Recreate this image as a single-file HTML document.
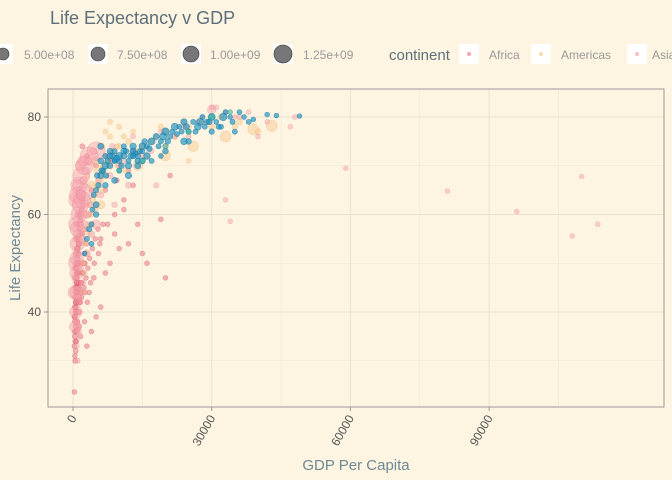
<!DOCTYPE html>
<html><head><meta charset="utf-8"><style>
body{margin:0;background:#fdf5e2;}
svg{display:block;font-family:"Liberation Sans",sans-serif;}
</style></head><body>
<svg id="chart" width="672" height="480">
<rect width="672" height="480" fill="#fdf5e2"/>
<text x="50" y="24" font-size="18" fill="#5d6f7a">Life Expectancy v GDP</text>
<g>
<rect x="-7" y="44" width="20" height="20" fill="#fff"/><circle cx="3" cy="54" r="6" fill="#777" stroke="#333" stroke-width="0.6"/>
<text x="24" y="59" font-size="12" fill="#999">5.00e+08</text>
<rect x="88" y="44" width="20" height="20" fill="#fff"/><circle cx="98" cy="54" r="7" fill="#777" stroke="#333" stroke-width="0.6"/>
<text x="117" y="59" font-size="12" fill="#999">7.50e+08</text>
<rect x="181" y="44" width="20" height="20" fill="#fff"/><circle cx="191" cy="54" r="8" fill="#777" stroke="#333" stroke-width="0.6"/>
<text x="210" y="59" font-size="12" fill="#999">1.00e+09</text>
<rect x="273" y="44" width="20" height="20" fill="#fff"/><circle cx="283" cy="54" r="9" fill="#777" stroke="#333" stroke-width="0.6"/>
<text x="303" y="59" font-size="12" fill="#999">1.25e+09</text>
</g>
<g>
<text x="389" y="60" font-size="15" fill="#5d6f7a">continent</text>
<rect x="459" y="44" width="20" height="20" fill="#fff"/><circle cx="469" cy="54" r="2" fill="#e8707f" fill-opacity="0.6"/>
<text x="489" y="59" font-size="12" fill="#999">Africa</text>
<rect x="531" y="44" width="20" height="20" fill="#fff"/><circle cx="541" cy="54" r="2" fill="#f7c98f" fill-opacity="0.7"/>
<text x="561" y="59" font-size="12" fill="#999">Americas</text>
<rect x="627" y="44" width="20" height="20" fill="#fff"/><circle cx="637" cy="54" r="2" fill="#f4a0ab" fill-opacity="0.7"/>
<text x="652" y="59" font-size="12" fill="#999">Asia</text>
</g>
<g id="grid"></g>
<g id="points"></g>
<rect x="48" y="89" width="616" height="318" fill="none" stroke="#999" stroke-width="1"/>
<g id="axes"></g>
<text x="356" y="470" font-size="15" fill="#6f8896" text-anchor="middle">GDP Per Capita</text>
<text transform="translate(20,248) rotate(-90)" font-size="15" fill="#6f8896" text-anchor="middle">Life Expectancy</text>
</svg>
<script>
const xTicks = [0, 30000, 60000, 90000];
const xTickLabels = ["0", "30000", "60000", "90000"];
const yTicks = [40, 60, 80];
const yTickLabels = ["40", "60", "80"];
const continents = ["Africa", "Americas", "Asia", "Europe", "Oceania"];
const africaGdp = [500,600,700,800,900,1000,1200,700,900,1100,1500,800,1300,2000,1000,1800,600,400,2500,1600,3000,300,4000,5000,6000,3500,4500,7000,2500,5500,8000,10000,12000,9000,6500,3500,2200,4000,1500,800,1200,2800,6000,15000,16000,19000,14000,11000,7000,9500,12000,5000,3000,2000,8000,13000,21000,20000,600,700,900,1100,1300,400,500,800,
 300,350,450,550,650,750,850,950,1050,1150,1250,1350,1450,1550,1700,1900,2100,2300,2600,2900,300,400,500,600,700,800,900,1000,1200,1400,1600,1800,2000,2400,2800,3200,3600,4200,4800,5400,400,500,600,700,800,900,1000,1100,1200,1300,1500,1700,1900,2200,2600,3100,3800,4600,5800,7500,9000,11000,13000];
const africaLife = [30,32,34,36,38,40,42,44,46,48,50,52,54,56,45,43,41,39,38,35,33,23.6,36,39,41,44,47,48,50,52,50,53,54,56,58,60,62,65,64,58,60,57,55,52,50,59,58,61,65,67,69,70,72,74,71,73,68,47,47,50,53,43,37,35,49,55,
 33,36,38,40,42,44,46,48,50,52,54,56,58,60,46,44,48,50,52,54,39,41,43,45,47,49,51,53,55,57,59,61,63,45,47,49,51,53,55,57,31,34,37,42,45,48,50,44,46,40,42,44,46,48,44,42,46,50,54,58,60,63,66];
const africaPop = [10,8,12,20,15,30,25,10,18,40,12,8,20,15,60,10,6,5,4,7,3,5,2,3,5,4,6,2,12,3,2,1.5,1,2,3,8,10,4,30,10,20,5,2,1,1,1,2,1,3,2,1,4,6,8,2,1,1,1,15,20,25,30,10,8,12,40,
 5,8,10,12,15,20,25,10,8,6,12,14,10,8,6,5,7,9,6,4,3,6,8,10,12,14,16,10,9,8,7,6,5,4,3,3,2,2,2,2,4,6,8,10,12,14,16,10,9,8,6,5,4,3,3,2,2,2,1,1,1,1,1];
const americasGdp = [1500,2000,2500,3000,3500,4000,5000,6000,7000,8000,9000,10000,12000,15000,18000,20000,25000,30000,35000,40000,10000,7000,8000,5000,4000,3000,6000,13000,16000,25000,3000,2000,14000,20000,26000,33000,39000,43000,8000,5500,
 2200,2700,3300,3800,4400,5200,6500,7500,8500,9500,11000,13000,14000,17000,19000,22000,24000,28000,32000,36000,4600,5800,6800,7800,9800,11500,3600,4800,2600,6200];
const americasLife = [40,44,48,52,56,58,62,65,68,70,72,74,75,74,76,77,78,78,78,77,78,77,79,71,66,60,62,72,72,71,68,55,70,72,74,76,77.5,78.2,76,69,
 50,54,58,60,63,66,69,71,73,74,76,77,73,75,78,76,79,79,80,79,64,67,70,72,70,69,62,61,57,74];
const americasPop = [5,8,10,15,20,30,40,60,50,40,30,20,25,10,20,30,15,30,20,30,10,8,5,80,100,60,120,10,20,8,15,10,200,230,260,280,300,300,10,150,
 8,10,12,15,20,25,30,20,15,10,8,6,20,25,15,20,10,30,30,25,40,60,80,50,40,30,20,15,10,30];
const asiaGdp = [400,600,700,800,1000,1300,1800,2500,3500,5000,500,600,700,750,800,900,1000,1300,1600,2000,2500,1000,800,1200,1500,2000,3000,4000,3000,6000,8000,10000,15000,20000,25000,28000,30000,33000,36000,48000,47000,31000,22000,33000,34000,59000,81000,96000,108000,110000,113500,40000,18000,9000,5000,12000,30000,1500,2200,1100,
 600,900,1100,1400,1700,2300,2800,3300,4500,5500,7000,8500,11000,13000,17000,19000,24000,27000,35000,38000,42000,700,1000,1400,1900,2600,3800];
const asiaLife = [44,50,58,63,64,66,68,70,72,73,37,40,44,48,51,54,57,60,62,63,64.5,30,33,36,42,46,52,56,60,64,68,70,72,74,76,80,82,81,80,80,78,82,76,63,58.6,69.5,64.8,60.6,55.6,67.8,58,76,66,62,58,66,81.5,70,71,66,
 47,52,56,60,64,67,69,71,73,67,72,74,71,76,73,77,78,79,80,81,79,38,43,49,55,58,62];
const asiaPop = [600,700,800,900,950,1000,1100,1200,1250,1300,370,450,500,550,600,700,800,900,1000,1050,1100,10,8,20,30,40,60,50,80,40,30,20,10,15,10,8,10,5,6,3,4,8,20,2,2,2,1.5,1,1,1,1,5,10,20,150,30,125,200,250,300,
 100,120,150,180,200,80,60,50,40,30,20,15,10,8,6,5,5,4,4,3,3,60,80,100,120,50,40];
const europeGdp = [3000,4000,5000,5000,4500,5500,6000,7000,8000,9000,10000,11000,12000,13000,14000,15000,16000,17000,18000,19000,20000,21000,22000,23000,24000,25000,26000,27000,28000,29000,30000,31000,32000,33000,34000,36000,39000,42000,44000,49000,6000,8000,10000,12000,14000,17000,20000,24000,5000,7000,9000,3500,2500,4000,6000,11000,15000,19000,25000,30000,35000,9500,13500,16500,22500,
 6500,7500,8500,9000,10500,11500,12500,13000,14500,15500,16000,18500,19500,20500,21500,23500,24500,26500,27500,28500,29500,31500,32500,34500,37000,38000,7000,8000,9000,10000,11000,12000,13000,14000,15000,5200,6200,7200,4200];
const europeLife = [55,58,60,62,64,66,68,70,70,71,72,72,71,73,72,74,74,75,76,75,77,76,78,78,79,77,79,78,80,79,80,79,78,81,80,81,79.5,80.5,80.3,80.2,74,73,69,68,70,71,73,75,65,66,67,57,52,54,71,74,71,72,75,77,77,71.5,72.5,73.5,76.5,
 69,71,72,73,70,73,72,74,73,75,72,74,76,75,77,77,78,77,79,78,79,78,80,79,80,79,72,72,71,71,73,70,72,71,73,68,69,68,61];
const europePop = [10,8,20,30,10,15,40,50,20,10,60,30,8,40,20,50,10,60,30,8,80,10,60,5,40,9,10,50,8,20,60,5,10,9,4,8,5,5,4,4,30,20,10,40,30,10,20,50,10,20,30,15,5,8,25,10,30,5,20,15,10,40,15,20,10,
 10,20,30,10,20,10,30,40,10,20,50,10,60,20,10,8,40,10,60,8,20,10,80,10,5,9,10,30,10,10,30,40,20,20,10,15,20,10,8];
const oceaniaGdp = [10000,15000,20000,25000,30000,34000];
const oceaniaLife = [69,71,74,77,80,81];
const oceaniaPop = [10,12,15,18,20,4];
const series = [
 {name:"africa", gdp:africaGdp, life:africaLife, pop:africaPop, fill:"#e8707f", stroke:"#d9566a", op:0.5},
 {name:"americas", gdp:americasGdp, life:americasLife, pop:americasPop, fill:"#f7c98f", stroke:"#f0b878", op:0.5},
 {name:"asia", gdp:asiaGdp, life:asiaLife, pop:asiaPop, fill:"#f4a0ab", stroke:"#ec8595", op:0.45},
 {name:"europe", gdp:europeGdp, life:europeLife, pop:europePop, fill:"#1a8fc0", stroke:"#147aa6", op:0.65},
 {name:"oceania", gdp:oceaniaGdp, life:oceaniaLife, pop:oceaniaPop, fill:"#3fb59c", stroke:"#2e9c85", op:0.6}
];
const NS = "http://www.w3.org/2000/svg";
function xs(v){ return 73 + v * (138.7/30000); }
function ys(v){ return 117 + (80 - v) * 4.875; }
function rs(p){ return Math.max(2.4, 2.0 + 7.0 * Math.sqrt(p/1250)); }
const grid = document.getElementById('grid');
function line(g,x1,y1,x2,y2,c,w){ const l=document.createElementNS(NS,'line'); l.setAttribute('x1',x1);l.setAttribute('y1',y1);l.setAttribute('x2',x2);l.setAttribute('y2',y2);l.setAttribute('stroke',c);l.setAttribute('stroke-width',w);g.appendChild(l);return l;}
[15000,45000,75000,105000].forEach(v=>{ const l=line(grid,xs(v),89,xs(v),407,'#efe7d2',0.6);

 });
[30,50,70].forEach(v=>{ const l=line(grid,48,ys(v),664,ys(v),'#efe7d2',0.6);

 });
xTicks.forEach(v=>{ const l=line(grid,xs(v),89,xs(v),407,'#ebe2cc',1);

 });
yTicks.forEach(v=>{ const l=line(grid,48,ys(v),664,ys(v),'#ebe2cc',1);

 });
const pts = document.getElementById('points');
series.forEach(s=>{
  s.gdp.forEach((g,i)=>{
    const c=document.createElementNS(NS,'circle');
    c.setAttribute('cx',xs(g)); c.setAttribute('cy',ys(s.life[i])); c.setAttribute('r',rs(s.pop[i]));
    c.setAttribute('fill',s.fill); c.setAttribute('fill-opacity',s.op);
    c.setAttribute('stroke',s.stroke); c.setAttribute('stroke-opacity',s.op); c.setAttribute('stroke-width',0.6);
    
    
    pts.appendChild(c);
  });
});
const axes = document.getElementById('axes');
xTicks.forEach((v,i)=>{
  line(axes,xs(v),407,xs(v),411,'#999',1);
  const t=document.createElementNS(NS,'text');
  t.setAttribute('transform','translate('+(xs(v)+4)+',418) rotate(-60)');
  t.setAttribute('text-anchor','end'); t.setAttribute('font-size','12'); t.setAttribute('fill','#555');
  t.textContent=xTickLabels[i];
  
  
  axes.appendChild(t);
});
yTicks.forEach((v,i)=>{
  line(axes,44,ys(v),48,ys(v),'#999',1);
  const t=document.createElementNS(NS,'text');
  t.setAttribute('x',41); t.setAttribute('y',ys(v)+4);
  t.setAttribute('text-anchor','end'); t.setAttribute('font-size','12'); t.setAttribute('fill','#555');
  t.textContent=yTickLabels[i];
  
  
  axes.appendChild(t);
});
</script>
</body></html>
